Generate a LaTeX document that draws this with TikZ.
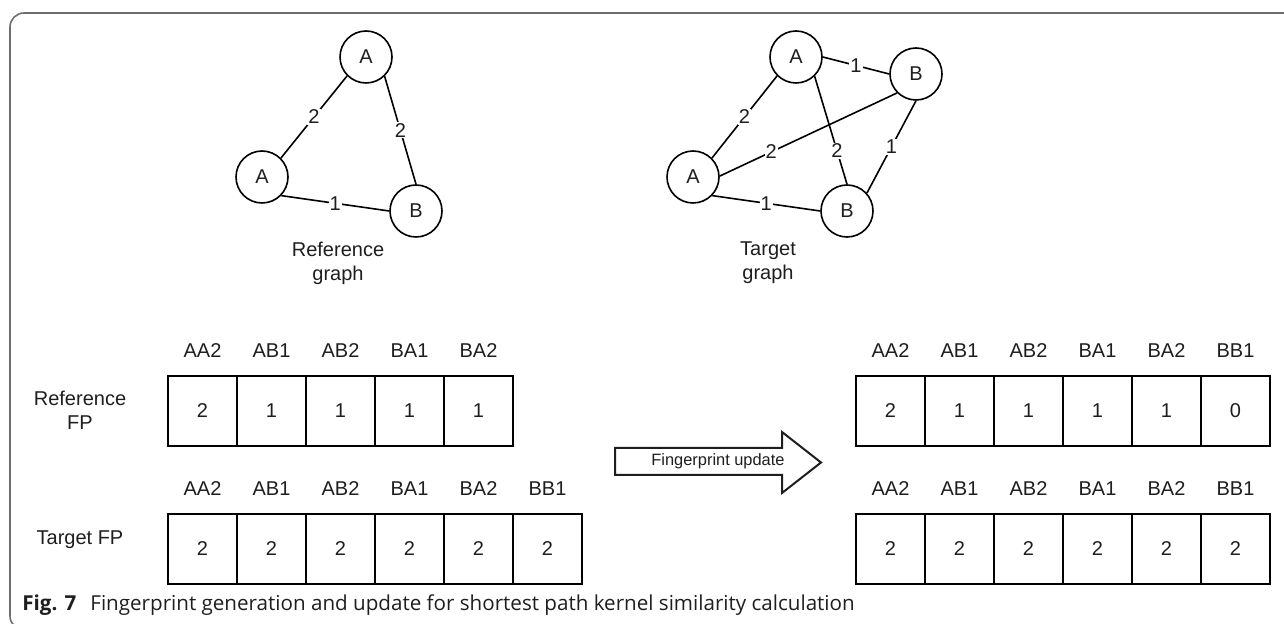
\documentclass[tikz,border=0pt]{standalone}
\usepackage{fontspec}
\setmainfont{Liberation Sans}
\newfontfamily\capfont{Open Sans}
\usetikzlibrary{positioning}

\definecolor{framegray}{HTML}{6E6E6E}
\definecolor{inkgray}{HTML}{1E1E1E}

\begin{document}
\begin{tikzpicture}[x=0.5pt, y=-0.5pt,
        every node/.style={font=\fontsize{10}{12}\selectfont, text=inkgray},
        vertex/.style={circle, draw, line width=0.8pt, minimum size=26pt, inner sep=0pt},
        edge/.style={line width=0.8pt},
        weight/.style={fill=white, inner sep=0.5pt},
        cell/.style={draw, line width=1pt, minimum width=34.5pt, minimum height=35pt, inner sep=0pt},
        head/.style={above=5pt of #1},
        rowlabel/.style={align=center}]

    \useasboundingbox (0,0) rectangle (1284,624);

    % outer frame, only top and left side are seen
    \begin{scope}
        \clip (0,0) rectangle (1284,624);
        \draw[framegray, line width=0.8pt, rounded corners=7pt] (10,13) rectangle (1330,630);
    \end{scope}

    % reference graph
    \node[vertex] (ra1) at (366,57) {A};
    \node[vertex] (ra2) at (262,177) {A};
    \node[vertex] (rb1) at (416,211) {B};
    \draw[edge] (ra1.-135) -- node[weight] {2} (ra2.45);
    \draw[edge] (ra1.-46) -- node[weight] {2} (rb1.90);
    \draw[edge] (ra2.-44) -- node[weight] {1} (rb1.180);
    \node[rowlabel] (rgl) at (338,263) {Reference\\graph};

    % target graph
    \node[vertex] (ta1) at (796,57) {A};
    \node[vertex] (ta2) at (693,177) {A};
    \node[vertex] (tb1) at (847,211) {B};
    \node[vertex] (tb2) at (916,74) {B};
    \draw[edge] (ta1.0) -- node[weight] {1} (tb2.180);
    \draw[edge] (ta1.-135) -- node[weight] {2} (ta2.45);
    \draw[edge] (ta2.2) -- node[weight, pos=0.29] {2} (tb2.-135);
    \draw[edge] (ta1.-46) -- node[weight, pos=0.69] {2} (tb1.90);
    \draw[edge] (tb2.-90) -- node[weight] {1} (tb1.42);
    \draw[edge] (ta2.-44) -- node[weight] {1} (tb1.180);
    \node[rowlabel] (tgl) at (768,263) {Target\\graph};

    % fingerprints before the update
    \node[rowlabel] (rfl) at (80,410) {Reference\\FP};
    \foreach \v/\h [count=\i] in {2/AA2,1/AB1,1/AB2,1/BA1,1/BA2} {
        \node[cell] (rf\i) at ({202.5+69*(\i-1)},411) {\v};
        \node[head=rf\i] (rfh\i) {\h};
    }
    \node[rowlabel] (tfl) at (80,540) {Target FP};
    \foreach \v/\h [count=\i] in {2/AA2,2/AB1,2/AB2,2/BA1,2/BA2,2/BB1} {
        \node[cell] (tf\i) at ({202.5+69*(\i-1)},549) {\v};
        \node[head=tf\i] (tfh\i) {\h};
    }

    % update arrow
    \draw[line width=1pt, draw=inkgray, fill=white]
        (615,448) -- (782,448) -- (782,432) -- (821,462.5) -- (782,493) -- (782,475) -- (615,475) -- cycle;
    \node[font=\fontsize{8.2}{10}\selectfont] (upd) at (718,461.5) {Fingerprint update};

    % fingerprints after the update
    \foreach \v/\h [count=\i] in {2/AA2,1/AB1,1/AB2,1/BA1,1/BA2,0/BB1} {
        \node[cell] (urf\i) at ({890.5+69*(\i-1)},411) {\v};
        \node[head=urf\i] (urfh\i) {\h};
    }
    \foreach \v/\h [count=\i] in {2/AA2,2/AB1,2/AB2,2/BA1,2/BA2,2/BB1} {
        \node[cell] (utf\i) at ({890.5+69*(\i-1)},549) {\v};
        \node[head=utf\i] (utfh\i) {\h};
    }

    % caption
    \node[anchor=west, inner sep=0pt, font=\capfont\fontsize{10.3}{12}\selectfont] (cap) at (22,605)
        {\textbf{Fig. 7}\hspace{7pt}Fingerprint generation and update for shortest path kernel similarity calculation};
\end{tikzpicture}
\end{document}
